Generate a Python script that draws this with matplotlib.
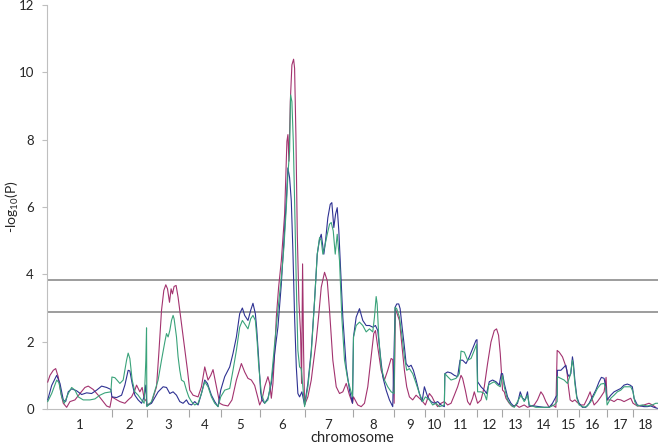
import numpy as np
import matplotlib.pyplot as plt

plt.rcParams['font.family'] = ['Lato', 'DejaVu Sans']
plt.rcParams['mathtext.fontset'] = 'custom'
plt.rcParams['mathtext.rm'] = 'Lato'

# chromosome lengths (map units), in order 1..18
chrom_len = [65, 35, 42, 32, 39, 45, 48, 42, 31, 19, 33, 25, 27, 28, 22, 28, 26, 25]
chrom_names = [str(i) for i in range(1, 19)]
thresholds = [3.82, 2.88]

# genome-wide position / -log10(P) for the three scans
pur_pos = [0.7, 3.0, 6.3, 8.7, 11.3, 14.0, 16.3, 19.7, 23.0, 28.0, 33.0, 38.0, 41.3, 46.3, 51.3, 56.3, 59.7, 63.0,
           65.0, 70.0, 73.0, 78.0, 81.3, 84.7, 88.0, 89.7, 93.0, 95.3, 97.3, 99.7,
           100.0, 104.7, 109.7, 112.0, 114.7, 117.0, 119.0, 120.7, 122.7, 124.3, 125.7, 127.3, 129.3, 131.3, 134.7, 138.0, 140.7, 143.0,
           146.3, 151.3, 154.7, 158.0, 161.3, 164.0, 166.3, 169.7, 173.0,
           176.3, 181.3, 185.3, 189.7, 194.7, 198.0, 201.3, 204.7, 208.0, 211.0,
           213.0, 215.3, 218.0, 221.3, 223.0, 224.7, 226.3, 228.0, 229.7, 232.0, 234.7, 238.0, 240.3, 241.3, 242.3, 243.7,
           245.3, 247.0, 248.0, 249.3, 250.7, 252.3, 254.0, 255.0, 256.0, 257.0, 258.0,
           261.3, 264.7, 266.3, 269.7, 272.0, 274.7, 278.0, 280.7, 283.0, 286.3, 289.7, 293.0, 296.3, 299.7, 303.0, 306.0,
           307.0, 311.3, 314.7, 318.0, 321.3, 324.7, 327.3, 329.0, 331.3, 334.7, 338.0, 341.3, 344.7, 346.3, 347.7,
           349.0, 353.0, 355.7, 358.0, 360.3, 363.0, 366.3, 369.7, 373.0, 376.3, 379.0,
           383.0, 385.7, 388.0, 391.3, 394.7, 398.0,
           401.3, 404.7, 408.0, 411.3, 414.7, 416.3, 419.0, 421.3, 423.7, 426.3, 428.0, 430.3,
           431.3, 434.7, 438.0, 441.3, 444.7, 448.0, 450.3, 452.3, 454.0, 455.3, 456.3,
           458.0, 459.7, 463.0, 466.3, 469.7, 473.0, 478.0, 481.3,
           488.0, 491.3, 494.7, 497.0, 499.7, 503.0, 506.3, 509.7,
           511.0, 513.0, 516.3, 518.7, 520.7, 522.3, 524.0, 526.3, 528.7, 531.3,
           534.7, 538.0, 541.3, 544.0, 546.3, 548.0, 551.3, 554.7, 558.0, 560.0, 561.0,
           564.7, 568.0, 571.3, 574.7, 578.0, 581.3, 584.7, 587.0,
           591.3, 594.7, 598.0, 603.0, 606.3, 609.7]
pur_val = [0.80, 1.00, 1.15, 1.20, 0.95, 0.46, 0.17, 0.05, 0.22, 0.27, 0.46, 0.64, 0.68, 0.58, 0.41, 0.22, 0.09, 0.05,
           0.36, 0.27, 0.22, 0.17, 0.27, 0.36, 0.56, 0.71, 0.51, 0.64, 0.32, 0.22,
           0.12, 0.19, 0.66, 1.65, 2.93, 3.52, 3.69, 3.57, 3.17, 3.57, 3.42, 3.64, 3.67, 3.32, 2.53, 1.74, 1.15, 0.56,
           0.41, 0.36, 0.66, 1.25, 0.86, 1.00, 1.17, 0.66, 0.17,
           0.12, 0.09, 0.27, 0.86, 1.35, 1.10, 0.91, 0.86, 0.70, 0.36,
           0.12, 0.27, 0.66, 0.96, 0.76, 0.32, 0.76, 1.65, 2.73, 3.62, 4.40, 5.78, 7.95, 8.15, 7.36, 9.13,
           10.22, 10.39, 10.12, 8.15, 5.19, 3.22, 2.24, 0.76, 4.31, 1.74, 0.12,
           0.36, 0.86, 1.25, 2.04, 2.73, 3.62, 4.06, 3.81, 2.93, 1.45, 0.66, 0.46, 0.51, 0.76, 0.41, 0.17,
           0.36, 0.12, 0.07, 0.17, 0.66, 1.55, 2.24, 2.33, 1.84, 1.15, 0.86, 1.15, 1.50, 1.47, 0.17,
           2.98, 2.63, 1.84, 1.15, 0.66, 0.36, 0.27, 0.41, 0.32, 0.22, 0.12,
           0.46, 0.36, 0.22, 0.07, 0.17, 0.22,
           0.12, 0.17, 0.41, 0.66, 1.00, 0.91, 0.56, 0.22, 0.12, 0.32, 0.51, 0.27,
           0.17, 0.27, 0.66, 1.35, 1.99, 2.33, 2.38, 2.19, 1.65, 1.05, 0.56,
           0.51, 0.32, 0.17, 0.07, 0.12, 0.05, 0.12, 0.05,
           0.12, 0.27, 0.51, 0.41, 0.22, 0.05, 0.12, 0.05,
           1.74, 1.69, 1.55, 1.35, 1.15, 0.66, 0.27, 0.22, 0.27, 0.19,
           0.12, 0.12, 0.32, 0.51, 0.27, 0.12, 0.22, 0.36, 0.51, 0.94, 0.27,
           0.27, 0.22, 0.29, 0.27, 0.22, 0.27, 0.32, 0.17,
           0.09, 0.09, 0.12, 0.17, 0.12, 0.05]

blu_pos = [0.7, 4.7, 9.7, 13.0, 16.3, 18.7, 21.3, 24.7, 29.7, 34.7, 39.7, 44.7, 49.7, 54.7, 59.7, 64.0,
           65.0, 69.7, 74.7, 78.0, 81.3, 83.0, 85.3, 88.0, 91.3, 94.7, 97.3, 99.0,
           100.0, 104.7, 111.3, 116.3, 119.7, 123.0, 126.3, 129.7, 133.0, 136.3, 139.7, 142.0,
           144.7, 148.0, 151.3, 154.7, 158.0, 160.7, 164.7, 168.0, 171.3,
           174.0, 178.0, 183.0, 186.3, 189.7, 193.0, 195.7, 198.0, 201.3, 204.0, 206.3, 208.7, 210.0, 212.0,
           214.0, 215.3, 218.0, 221.3, 224.7, 228.0, 231.3, 234.7, 237.3, 239.7, 241.3, 243.0, 244.7, 246.3,
           248.0, 249.7, 251.3, 253.0, 255.3, 258.0,
           261.3, 264.7, 268.0, 270.7, 273.0, 274.7, 277.3, 279.0, 281.3, 283.7, 285.3, 287.3, 289.0, 290.7,
           292.3, 294.0, 296.3, 299.7, 303.0, 306.0,
           307.0, 309.7, 313.0, 316.3, 319.7, 323.0, 326.3, 329.0, 331.3, 333.0, 336.3, 339.7, 343.0, 346.3,
           348.7, 350.3, 352.3, 353.7, 355.7, 358.0, 359.7, 362.3, 364.7, 367.0, 369.7, 373.0, 375.7, 378.0,
           381.3, 384.7, 388.0, 391.3, 394.7, 398.0,
           398.5, 401.3, 404.7, 408.0, 411.3, 413.7, 416.3, 419.7, 423.0, 426.3, 429.7, 430.7,
           431.3, 434.7, 438.0, 440.3, 443.0, 446.3, 449.7, 453.0, 455.0,
           456.3, 458.0, 461.3, 464.7, 468.0, 471.3, 474.0, 476.3, 479.0, 481.3, 483.0,
           488.0, 493.0, 498.0, 503.0, 506.3, 509.7, 511.0,
           511.2, 514.7, 518.0, 519.7, 521.3, 523.0, 524.7, 526.3, 527.3, 528.7, 530.7, 533.0,
           536.3, 539.7, 543.0, 546.3, 549.7, 553.0, 555.3, 558.0, 559.7, 561.0,
           564.7, 568.0, 571.3, 574.7, 578.0, 581.3, 584.0, 586.3, 588.0,
           591.3, 594.7, 598.0, 601.3, 604.7, 608.0, 611.3]
blu_val = [0.27, 0.70, 1.00, 0.76, 0.27, 0.22, 0.51, 0.60, 0.54, 0.43, 0.48, 0.46, 0.56, 0.68, 0.64, 0.58,
           0.36, 0.34, 0.41, 0.71, 1.15, 1.13, 0.76, 0.41, 0.27, 0.17, 0.36, 0.71,
           0.09, 0.17, 0.51, 0.66, 0.64, 0.46, 0.51, 0.41, 0.22, 0.17, 0.27, 0.15,
           0.12, 0.22, 0.12, 0.46, 0.86, 0.76, 0.41, 0.22, 0.07,
           0.56, 0.96, 1.25, 1.65, 2.14, 2.83, 3.00, 2.78, 2.63, 2.93, 3.14, 2.83, 2.40, 1.50,
           0.50, 0.27, 0.17, 0.32, 0.76, 1.65, 2.43, 3.71, 5.00, 6.18, 7.16, 6.87, 6.18, 4.70,
           2.73, 1.25, 0.46, 0.36, 0.51, 0.12,
           0.76, 1.74, 3.22, 4.60, 5.04, 5.19, 4.60, 5.00, 5.68, 6.08, 6.13, 5.39, 5.78, 5.98,
           5.29, 4.21, 2.73, 1.25, 0.56, 0.17,
           2.14, 2.73, 2.98, 2.63, 2.48, 2.48, 2.43, 2.48, 2.33, 1.84, 0.96, 0.56, 0.27, 0.07,
           3.02, 3.12, 3.12, 2.98, 2.43, 1.84, 1.35, 1.25, 1.30, 1.15, 0.86, 0.46, 0.22, 0.66,
           0.36, 0.22, 0.17, 0.22, 0.12, 0.07,
           1.05, 1.10, 1.07, 1.00, 0.96, 1.45, 1.45, 1.35, 1.55, 1.79, 2.04, 2.06,
           0.81, 0.66, 0.56, 0.46, 0.81, 0.86, 0.81, 0.71, 1.05,
           1.05, 0.76, 0.36, 0.17, 0.07, 0.17, 0.51, 0.32, 0.27, 0.51, 0.09,
           0.09, 0.07, 0.05, 0.05, 0.17, 0.36, 0.41,
           1.15, 1.15, 1.25, 1.30, 1.05, 0.96, 1.05, 1.55, 1.35, 0.86, 0.36, 0.17,
           0.05, 0.05, 0.17, 0.36, 0.56, 0.81, 0.94, 0.91, 0.66, 0.27,
           0.41, 0.51, 0.56, 0.61, 0.71, 0.74, 0.71, 0.66, 0.32,
           0.12, 0.09, 0.07, 0.07, 0.09, 0.05, 0.02]

grn_pos = [0.7, 4.7, 9.7, 12.0, 14.7, 17.3, 21.3, 24.7, 28.0, 31.3, 36.3, 43.0, 48.0, 53.0, 58.0, 64.0,
           65.0, 68.0, 73.0, 76.3, 79.7, 81.3, 83.0, 85.3, 88.0, 91.3, 94.7, 97.3, 99.0, 99.7,
           100.0, 104.7, 111.3, 114.7, 118.0, 119.7, 121.3, 123.0, 124.7, 126.3, 127.3, 129.7, 131.3, 133.0,
           134.7, 137.3, 139.7, 142.0,
           144.7, 148.0, 151.3, 154.7, 158.0, 161.3, 164.7, 168.0, 171.3,
           174.0, 178.0, 183.0, 186.3, 189.7, 193.0, 195.7, 198.0, 201.3, 204.0, 206.3, 208.7, 210.5, 212.0,
           214.7, 218.0, 221.3, 224.7, 228.0, 231.3, 234.7, 237.3, 239.7, 241.3, 243.0, 244.0, 245.3, 246.7,
           248.0, 249.7, 251.3, 253.0, 254.7, 256.3, 258.0,
           261.3, 264.7, 268.0, 270.7, 273.0, 274.7, 276.3, 278.0, 280.7, 283.0, 284.7, 286.7, 288.7, 290.7,
           293.0, 295.3, 298.0, 301.3, 306.0,
           307.0, 309.7, 313.0, 316.3, 319.7, 323.0, 326.3, 328.0, 329.7, 330.7, 332.3, 334.7, 338.0, 341.3,
           344.7, 347.7,
           348.7, 350.3, 353.0, 355.7, 358.0, 360.3, 363.0, 366.3, 369.7, 373.0, 376.3, 379.0,
           383.0, 386.3, 389.7, 393.0, 398.0,
           398.5, 401.3, 404.7, 409.7, 413.0, 414.7, 418.0, 421.3, 424.7, 428.0, 430.3,
           431.3, 434.7, 438.0, 440.3, 442.3, 444.7, 448.0, 451.3, 454.0, 456.3,
           458.0, 461.3, 464.7, 468.0, 471.3, 474.7, 478.0, 481.3, 483.0,
           489.7, 496.3, 503.0, 508.0, 511.0,
           511.2, 514.7, 518.0, 521.3, 524.0, 526.3, 527.3, 528.7, 530.7, 533.0,
           538.0, 541.3, 544.7, 548.0, 551.3, 554.7, 558.0, 559.7, 561.0,
           564.7, 568.0, 571.3, 574.7, 578.0, 581.3, 584.7, 587.0, 588.7,
           591.3, 596.3, 601.3, 606.3, 609.7, 612.0]
grn_val = [0.22, 0.46, 0.86, 0.78, 0.36, 0.17, 0.46, 0.64, 0.56, 0.36, 0.27, 0.27, 0.30, 0.41, 0.48, 0.51,
           0.95, 0.93, 0.76, 0.86, 1.45, 1.66, 1.50, 0.86, 0.51, 0.41, 0.27, 0.17, 1.45, 2.41,
           0.07, 0.22, 0.86, 1.45, 1.99, 2.24, 2.14, 2.33, 2.63, 2.78, 2.68, 2.14, 1.55, 1.15,
           0.86, 0.81, 0.56, 0.36,
           0.22, 0.12, 0.17, 0.46, 0.81, 0.66, 0.36, 0.17, 0.07,
           0.36, 0.56, 0.61, 1.15, 1.74, 2.43, 2.63, 2.53, 2.38, 2.68, 2.78, 2.63, 2.00, 1.30,
           0.46, 0.17, 0.27, 0.86, 1.94, 2.93, 3.91, 4.80, 5.98, 6.97, 7.66, 9.33, 9.13, 7.95,
           6.18, 3.71, 1.74, 1.25, 1.20, 0.66, 0.07,
           0.66, 1.65, 3.22, 4.60, 5.09, 5.00, 4.60, 4.80, 5.19, 5.49, 5.54, 5.29, 4.60, 5.19,
           4.40, 2.73, 1.45, 0.86, 0.36,
           2.14, 2.48, 2.58, 2.48, 2.29, 2.38, 2.29, 2.73, 3.34, 3.12, 2.14, 1.25, 0.86, 0.66,
           0.51, 0.46,
           3.02, 2.98, 2.73, 2.14, 1.55, 1.15, 1.20, 1.05, 0.76, 0.46, 0.22, 0.36,
           0.27, 0.12, 0.17, 0.07, 0.12,
           1.05, 0.96, 0.86, 0.91, 1.05, 1.72, 1.69, 1.45, 1.50, 1.74, 1.92,
           0.51, 0.51, 0.46, 0.27, 0.71, 0.76, 0.81, 0.71, 0.66, 1.00,
           0.66, 0.27, 0.12, 0.05, 0.22, 0.41, 0.22, 0.41, 0.12,
           0.05, 0.05, 0.05, 0.12, 0.22,
           0.96, 0.91, 0.86, 0.76, 1.00, 1.45, 1.25, 0.76, 0.32, 0.12,
           0.05, 0.09, 0.22, 0.41, 0.61, 0.74, 0.76, 0.61, 0.12,
           0.32, 0.41, 0.51, 0.56, 0.66, 0.66, 0.66, 0.51, 0.22,
           0.09, 0.12, 0.09, 0.12, 0.17, 0.17]

bounds = np.concatenate([[0], np.cumsum(chrom_len)])
centers = (bounds[:-1] + bounds[1:]) / 2

fig = plt.figure(figsize=(6.58, 4.45), dpi=100)
ax = fig.add_axes([47 / 658, 36 / 445, 611 / 658, 404 / 445])

for t in thresholds:
    ax.axhline(t, color='#8c8c8c', lw=1.2, zorder=1)

ax.plot(pur_pos, pur_val, color='#a3336f', lw=0.8, zorder=3)
ax.plot(blu_pos, blu_val, color='#2e3192', lw=0.8, zorder=4)
ax.plot(grn_pos, grn_val, color='#3aa37a', lw=0.8, zorder=5)

ax.set_xlim(0, bounds[-1])
ax.set_ylim(0, 12)
ax.set_yticks(range(0, 13, 2))

# chromosome separators as major ticks, names on minor ticks
ax.set_xticks(bounds[1:-1])
ax.set_xticklabels([])
ax.set_xticks(centers, minor=True)
ax.set_xticklabels(chrom_names, minor=True)
ax.tick_params(axis='x', which='major', length=6, color='#a6a6a6', width=0.8)
ax.tick_params(axis='x', which='minor', length=0, pad=7, labelsize=9.5, labelcolor='#262626')
ax.tick_params(axis='y', length=3.5, color='#bfbfbf', width=0.8, pad=6, labelsize=9.5, labelcolor='#262626')

for s in ['top', 'right']:
    ax.spines[s].set_visible(False)
ax.spines['left'].set_color('#bfbfbf')
ax.spines['bottom'].set_color('#bfbfbf')
ax.spines['left'].set_linewidth(0.8)
ax.spines['bottom'].set_linewidth(0.8)

ax.set_xlabel('chromosome', fontsize=10.5, color='#262626')
ax.xaxis.set_label_coords(0.5, -0.054)
ax.set_ylabel('-log$_{\\mathregular{10}}$(P)', fontsize=10, color='#262626')
ax.yaxis.set_label_coords(-0.043, 0.5)

fig.savefig('out.png', dpi=100)
